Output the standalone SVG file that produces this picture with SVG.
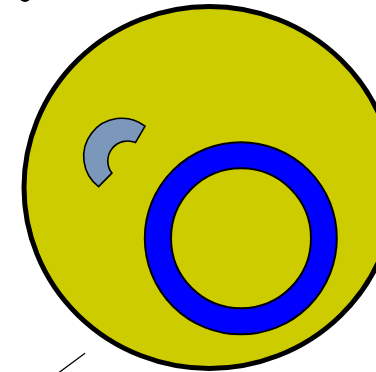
<svg xmlns="http://www.w3.org/2000/svg" width="376" height="372" viewBox="0 0 376 372">
  <style>
    .cell { fill: #cccc00; stroke: #000; stroke-width: 5; }
    .ring { fill: #0000ff; stroke: #000; stroke-width: 2; fill-rule: evenodd; }
    .frag { fill: #7b97b9; stroke: #000; stroke-width: 1.6; stroke-linejoin: miter; }
    .conn { stroke: #000; stroke-width: 1.3; fill: none; }
  </style>
  <rect width="376" height="372" fill="#ffffff"/>
  <g id="topmark">
    <ellipse cx="25" cy="-3" rx="5.5" ry="5" fill="#000"/>
  </g>
  <g id="cell">
    <ellipse class="cell" cx="209.5" cy="187.5" rx="185.5" ry="181"/>
  </g>
  <g id="ring">
    <path class="ring" d="M 144.8,238.3 A 96 96 0 1 0 336.8,238.3 A 96 96 0 1 0 144.8,238.3 Z M 171,238.3 A 70 70 0 1 0 311,238.3 A 70 70 0 1 0 171,238.3 Z"/>
  </g>
  <g id="fragment">
    <path class="frag" d="M 145,126.1 A 38 38 0 0 0 98.6,186.6 L 111.9,173.1 A 20 20 0 0 1 135.5,142.5 Z"/>
  </g>
  <g id="connectors">
    <line class="conn" x1="57" y1="374" x2="85" y2="353.3"/>
  </g>
</svg>
